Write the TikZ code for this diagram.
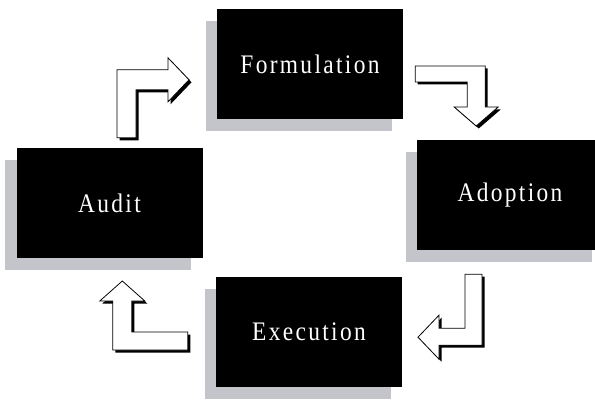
\documentclass[tikz,border=0pt]{standalone}
\usepackage{fontspec}
\newfontfamily\stagefont[LetterSpace=10]{Liberation Serif}
\usetikzlibrary{shadows}
\definecolor{shadegray}{RGB}{196,196,203}
\newcommand{\stagetext}[1]{\scalebox{0.9}[1.03]{#1}}
\begin{document}
\begin{tikzpicture}[x=1pt,y=-1pt]
 \tikzstyle{stage}=[rectangle, fill=black, text=white, inner sep=0pt,
   minimum width=186pt, minimum height=110pt,
   font=\stagefont\fontsize{26}{30}\selectfont,
   preaction={draw=white, line width=8pt},
   drop shadow={shadow xshift=-11.5pt, shadow yshift=-12pt, fill=shadegray, opacity=1}]
 \tikzstyle{bentarrow}=[fill=white, draw=black, line width=0.8pt, line join=miter,
   drop shadow={shadow xshift=2.5pt, shadow yshift=-2.5pt, fill=black, opacity=1}]
\useasboundingbox[fill=white] (0,0) rectangle (595,401);
% the four stages
\draw (310,64.5) node[stage] (form) {\stagetext{Formulation}};
\draw (510,195) node[stage] (adopt) {\stagetext{Adoption}};
\draw (109.5,203) node[stage] (audit) {\stagetext{Audit}};
\draw (309,332) node[stage] (exec) {\stagetext{Execution}};
% arrow starts
\coordinate (s1) at ([xshift=17pt,yshift=10pt]audit.north);
\coordinate (s2) at ([xshift=12pt,yshift=-9.5pt]form.east);
\coordinate (s3) at ([xshift=-36.5pt,yshift=-24pt]adopt.south);
\coordinate (s4) at ([xshift=-28pt,yshift=-9pt]exec.west);
% audit -> formulation
\draw[bentarrow] (s1) ++(-9.5,0) -- ++(0,-68) -- ++(51,0) -- ++(0,-12) -- ++(21,22)
  -- ++(-21,22) -- ++(0,-12) -- ++(-32,0) -- ++(0,48) -- cycle;
% formulation -> adoption
\draw[bentarrow] (s2) ++(0,-8) -- ++(70,0) -- ++(0,41) -- ++(13,0) -- ++(-22,19)
  -- ++(-22,-19) -- ++(13,0) -- ++(0,-25) -- ++(-52,0) -- cycle;
% adoption -> execution
\draw[bentarrow] (s3) ++(-8.5,0) -- ++(17,0) -- ++(0,71) -- ++(-43,0) -- ++(0,14)
  -- ++(-21,-22) -- ++(21,-22) -- ++(0,13) -- ++(26,0) -- cycle;
% execution -> audit
\draw[bentarrow] (s4) ++(0,9) -- ++(-75,0) -- ++(0,-49) -- ++(-13,0) -- ++(22.5,-20)
  -- ++(22.5,20) -- ++(-13,0) -- ++(0,31) -- ++(56,0) -- cycle;
\end{tikzpicture}
\end{document}
